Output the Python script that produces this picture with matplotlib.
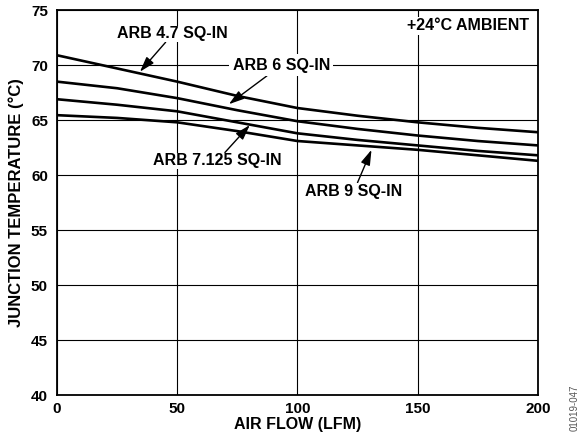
import matplotlib
matplotlib.use("Agg")
import matplotlib.pyplot as plt

plt.rcParams['font.family'] = ['Liberation Sans', 'DejaVu Sans']
plt.rcParams['font.weight'] = 'bold'

air_flow = [0, 25, 50, 75, 100, 125, 150, 175, 200]
arb_4_7 = [70.9, 69.7, 68.5, 67.2, 66.1, 65.4, 64.8, 64.3, 63.9]
arb_6 = [68.5, 67.9, 67.0, 65.9, 64.9, 64.2, 63.6, 63.1, 62.7]
arb_7_125 = [66.9, 66.4, 65.8, 64.8, 63.8, 63.2, 62.7, 62.2, 61.8]
arb_9 = [65.45, 65.2, 64.8, 64.0, 63.1, 62.7, 62.3, 61.8, 61.3]

x_ticks = [0, 50, 100, 150, 200]
y_ticks = [40, 45, 50, 55, 60, 65, 70, 75]

fig = plt.figure(figsize=(5.79, 4.42), dpi=100)
ax = fig.add_axes([0.0984, 0.1063, 0.8306, 0.8707])

for s in [arb_4_7, arb_6, arb_7_125, arb_9]:
    ax.plot(air_flow, s, color='black', lw=1.9, zorder=3)

ax.set_xlim(0, 200)
ax.set_ylim(40, 75)
ax.set_xticks(x_ticks)
ax.set_yticks(y_ticks)
ax.grid(True, color='black', lw=0.8)
ax.tick_params(axis='x', length=0, labelsize=11, pad=5)
ax.tick_params(axis='y', length=0, labelsize=11, pad=6.5)
for sp in ax.spines.values():
    sp.set_linewidth(1.3)
for lab in ax.get_xticklabels() + ax.get_yticklabels():
    lab.set_fontweight('bold')

ax.set_xlabel('AIR FLOW (LFM)', fontsize=11.5, fontweight='bold', labelpad=1)
ax.set_ylabel('JUNCTION TEMPERATURE (°C)', fontsize=12, fontweight='bold', labelpad=5)

fs = 11.5
arrow = dict(arrowstyle='-|>,head_length=0.8,head_width=0.25', color='black', lw=1.0,
             shrinkA=0, shrinkB=0)
ax.annotate('ARB 4.7 SQ-IN', xy=(34.5, 69.4), xytext=(48.2, 72.84), ha='center', va='center',
            fontsize=fs, fontweight='bold', arrowprops=arrow, zorder=5,
            bbox=dict(boxstyle='square,pad=0.05', fc='white', ec='none'))
ax.annotate('ARB 6 SQ-IN', xy=(71.5, 66.45), xytext=(93.3, 70.0), ha='center', va='center',
            fontsize=fs, fontweight='bold', arrowprops=arrow, zorder=5,
            bbox=dict(boxstyle='square,pad=0.2', fc='white', ec='none'))
ax.annotate('ARB 7.125 SQ-IN', xy=(80.2, 64.55), xytext=(66.7, 61.3), ha='center', va='center',
            fontsize=fs, fontweight='bold', arrowprops=arrow, zorder=5,
            bbox=dict(boxstyle='square,pad=0.05', fc='white', ec='none'))
ax.annotate('ARB 9 SQ-IN', xy=(130.8, 62.3), xytext=(123.5, 58.55), ha='center', va='center',
            fontsize=fs, fontweight='bold', arrowprops=arrow, zorder=5,
            bbox=dict(boxstyle='square,pad=0.05', fc='white', ec='none'))
ax.text(196.3, 73.56, '+24°C AMBIENT', ha='right', va='center', fontsize=fs, fontweight='bold',
        zorder=5, bbox=dict(boxstyle='square,pad=0.1', fc='white', ec='none'))

fig.text(0.993, 1 - 385 / 442, '01019-047', rotation=90, fontsize=7, color='#555555',
         fontweight='normal', ha='center', va='top')

fig.savefig('out.png', dpi=100)
